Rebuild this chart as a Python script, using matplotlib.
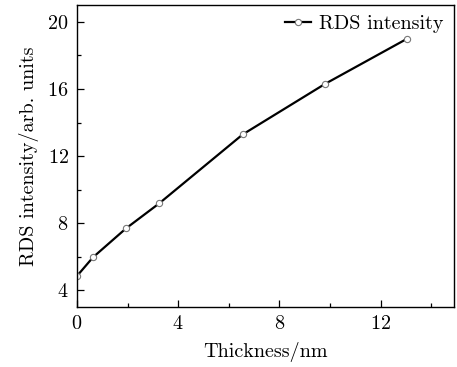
import matplotlib
matplotlib.use("Agg")
import matplotlib.pyplot as plt
from matplotlib.ticker import MultipleLocator

thickness = [0.0, 0.63, 1.94, 3.25, 6.55, 9.8, 13.05]
rds = [4.85, 5.96, 7.69, 9.18, 13.29, 16.3, 19.0]
xticks = [0, 4, 8, 12]
yticks = [4, 8, 12, 16, 20]

plt.rcParams['font.family'] = ['cmr10', 'DejaVu Serif']
plt.rcParams['axes.formatter.use_mathtext'] = True
plt.rcParams['font.size'] = 14.5

fig = plt.figure(figsize=(4.57, 3.67), dpi=100)
ax = fig.add_axes([0.1685, 0.1635, 0.8249, 0.8225])
ax.plot(thickness, rds, color='black', lw=1.6, marker='o', ms=4.5,
        mfc='white', mec='#777777', mew=0.8, label='RDS intensity')
ax.set_xlim(0, 14.9)
ax.set_ylim(3, 21)
ax.set_xticks(xticks)
ax.set_yticks(yticks)
ax.xaxis.set_minor_locator(MultipleLocator(2))
ax.yaxis.set_minor_locator(MultipleLocator(2))
ax.tick_params(which='both', direction='in', top=False, right=False)
ax.tick_params(which='major', length=5, width=0.9, pad=6)
ax.tick_params(which='minor', length=3, width=0.9)
for s in ax.spines.values():
    s.set_linewidth(1.0)
ax.set_xlabel('Thickness/nm', labelpad=6)
ax.set_ylabel('RDS intensity/arb. units', labelpad=6)
ax.legend(loc='upper right', frameon=False, handlelength=1.3, handletextpad=0.4,
          borderaxespad=0.1)
fig.savefig('out.png', dpi=100)
